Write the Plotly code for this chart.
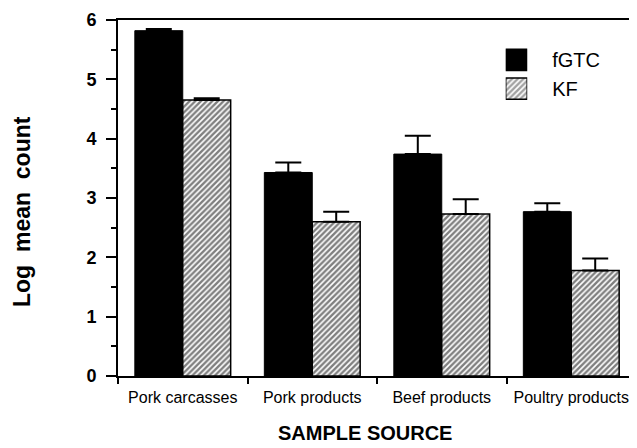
import plotly.graph_objects as go

categories = ["Pork carcasses", "Pork products", "Beef products", "Poultry products"]
fgtc_values = [5.82, 3.43, 3.74, 2.77]
fgtc_errors = [0.03, 0.17, 0.31, 0.14]
kf_values = [4.65, 2.60, 2.73, 1.78]
kf_errors = [0.03, 0.17, 0.25, 0.20]
legend_labels = ["KF", "fGTC"]
legend_swatch = [1, 1]

FONT = "Liberation Sans, Arial, Helvetica, sans-serif"
HATCH = dict(shape="/", fgcolor="black", bgcolor="white", size=4, solidity=0.6)

# the page body has an 8px default margin, so the figure is 8px smaller than the window
fig = go.Figure()
fig.add_trace(go.Bar(
    x=categories, y=fgtc_values, name="fGTC",
    marker=dict(color="black", line=dict(color="black", width=1)),
    error_y=dict(type="data", array=fgtc_errors, arrayminus=[0]*4, symmetric=False,
                 color="black", thickness=2, width=13),
    showlegend=False,
))
fig.add_trace(go.Bar(
    x=categories, y=kf_values, name="KF",
    marker=dict(color="white", line=dict(color="black", width=1.5), pattern=HATCH),
    error_y=dict(type="data", array=kf_errors, arrayminus=[0]*4, symmetric=False,
                 color="black", thickness=2, width=13),
    showlegend=False,
))
# legend swatches (drawn as a small horizontal bar chart)
fig.add_trace(go.Bar(
    x=legend_swatch, y=legend_labels, orientation="h",
    xaxis="x2", yaxis="y2", showlegend=False, hoverinfo="skip",
    marker=dict(color=["white", "black"], line=dict(color="black", width=1.5),
                pattern=dict(shape=["/", ""], fgcolor="black", bgcolor="white",
                             size=4, solidity=0.6)),
))

fig.update_layout(
    width=629, height=440,
    margin=dict(l=110, r=1, t=12, b=72),
    paper_bgcolor="white", plot_bgcolor="white",
    barmode="group", bargap=0.26, bargroupgap=0,
    font=dict(family=FONT, color="black"),
    showlegend=False,
    xaxis=dict(
        range=[-0.5, 3.5], showline=True, linecolor="black", linewidth=2, mirror=True,
        ticks="outside", tickson="boundaries", ticklen=6, tickwidth=2, tickcolor="black",
        tickfont=dict(size=16, family=FONT), showgrid=False, automargin=False,
        ticklabelstandoff=6,
    ),
    yaxis=dict(
        range=[0, 6], dtick=1, showline=True, linecolor="black", linewidth=2, mirror=True,
        ticks="outside", ticklen=10, tickwidth=2, tickcolor="black",
        tickfont=dict(size=18, family=FONT, weight="bold"), showgrid=False, zeroline=False,
        minor=dict(dtick=0.5, ticks="outside", ticklen=5, tickwidth=2, tickcolor="black"),
        automargin=False, ticklabelstandoff=6,
    ),
    xaxis2=dict(domain=[0.7485, 0.790], range=[0, 1], anchor="y2", visible=False,
                fixedrange=True),
    yaxis2=dict(domain=[0.767, 0.928], anchor="x2", side="right", showline=False,
                ticks="", showgrid=False, zeroline=False, automargin=False,
                tickfont=dict(size=20, family=FONT), ticklabelstandoff=24,
                categoryorder="array", categoryarray=legend_labels),
    annotations=[
        dict(text="<b>SAMPLE SOURCE</b>", xref="paper", yref="paper",
             x=(365 - 118) / 518, y=(376 - 433) / 356, xanchor="center", yanchor="middle",
             showarrow=False, font=dict(size=20, family=FONT)),
        dict(text="<b>Log  mean  count</b>", xref="paper", yref="paper",
             x=(22 - 118) / 518, y=(376 - 212) / 356, xanchor="center", yanchor="middle",
             textangle=-90, showarrow=False, font=dict(size=23, family=FONT)),
    ],
)
fig.write_html("out.html")
